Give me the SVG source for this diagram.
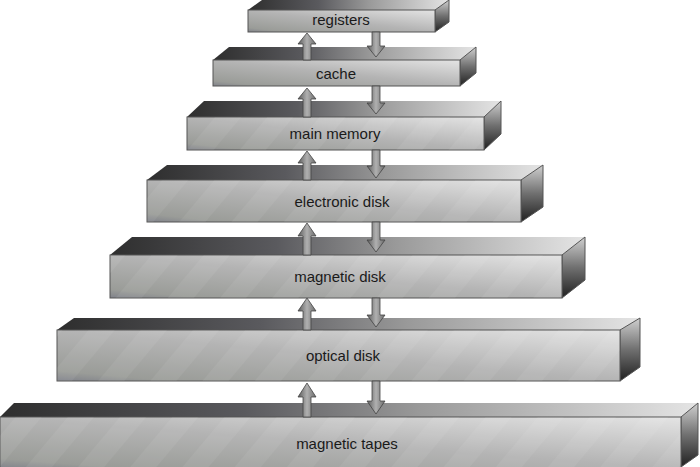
<svg xmlns="http://www.w3.org/2000/svg" width="700" height="467" viewBox="0 0 700 467">
<defs>
<linearGradient id="top" x1="0" y1="0" x2="1" y2="0"><stop offset="0" stop-color="#2e2e2e"/><stop offset="0.35" stop-color="#5a5a5e"/><stop offset="0.6" stop-color="#999"/><stop offset="1" stop-color="#e4e4e4"/></linearGradient>
<linearGradient id="front" x1="0" y1="1" x2="1" y2="0"><stop offset="0" stop-color="#80828a"/><stop offset="0.1" stop-color="#9a9c98"/><stop offset="0.5" stop-color="#b4b4b4"/><stop offset="1" stop-color="#e4e4e4"/></linearGradient>
<linearGradient id="side" x1="0" y1="0" x2="0" y2="1"><stop offset="0" stop-color="#d0d0d0"/><stop offset="0.5" stop-color="#707070"/><stop offset="1" stop-color="#202020"/></linearGradient>
<linearGradient id="arr" x1="0" y1="0" x2="1" y2="0"><stop offset="0" stop-color="#5a5a5a"/><stop offset="0.5" stop-color="#b0b0b0"/><stop offset="1" stop-color="#6a6a6a"/></linearGradient>
<pattern id="stripes" width="40" height="40" patternUnits="userSpaceOnUse" patternTransform="rotate(40)"><rect width="20" height="40" fill="#fff" opacity="0.06"/></pattern>
</defs>
<style>
.f{stroke:#555;stroke-width:1}
.t{font-family:"Liberation Sans",Arial,sans-serif;font-size:15px;fill:#1a1a1a;text-anchor:middle}
.a{fill:url(#arr);stroke:#444;stroke-width:0.8}
</style>
<g id="registers"><polygon points="248,10 262,0 449,0 435,10" fill="url(#top)"/><polygon points="435,10 449,0 449,22 435,32" fill="url(#side)" class="f"/><rect x="248" y="10" width="187" height="22" fill="url(#front)" class="f"/><text class="t" x="341" y="25">registers</text></g>
<g id="cache"><polygon points="213,60 229,47 476,47 460,60" fill="url(#top)"/><polygon points="460,60 476,47 476,73 460,86" fill="url(#side)" class="f"/><rect x="213" y="60" width="247" height="26" fill="url(#front)" class="f"/><text class="t" x="336" y="79">cache</text></g>
<g id="main-memory"><polygon points="187,117 204,101 501,101 484,117" fill="url(#top)"/><polygon points="484,117 501,101 501,134 484,150" fill="url(#side)" class="f"/><rect x="187" y="117" width="297" height="33" fill="url(#front)" class="f"/><rect x="187" y="117" width="297" height="33" fill="url(#stripes)"/><text class="t" x="335" y="139">main memory</text></g>
<g id="electronic-disk"><polygon points="147,180 167,165 543,165 521,180" fill="url(#top)"/><polygon points="521,180 543,165 543,207 521,222" fill="url(#side)" class="f"/><rect x="147" y="180" width="374" height="42" fill="url(#front)" class="f"/><rect x="147" y="180" width="374" height="42" fill="url(#stripes)"/><text class="t" x="342" y="207">electronic disk</text></g>
<g id="magnetic-disk"><polygon points="110,255 132,237 585,237 562,255" fill="url(#top)"/><polygon points="562,255 585,237 585,280 562,298" fill="url(#side)" class="f"/><rect x="110" y="255" width="452" height="43" fill="url(#front)" class="f"/><rect x="110" y="255" width="452" height="43" fill="url(#stripes)"/><text class="t" x="340" y="282">magnetic disk</text></g>
<g id="optical-disk"><polygon points="57,330 74,318 640,318 620,330" fill="url(#top)"/><polygon points="620,330 640,318 640,367 620,381" fill="url(#side)" class="f"/><rect x="57" y="330" width="563" height="51" fill="url(#front)" class="f"/><rect x="57" y="330" width="563" height="51" fill="url(#stripes)"/><text class="t" x="343" y="361">optical disk</text></g>
<g id="magnetic-tapes"><polygon points="0,417 14,403 698,403 681,417" fill="url(#top)"/><polygon points="681,417 698,403 698,455 681,467" fill="url(#side)" class="f"/><rect x="0" y="417" width="681" height="52" fill="url(#front)" class="f"/><rect x="0" y="417" width="681" height="52" fill="url(#stripes)"/><text class="t" x="347" y="449">magnetic tapes</text></g>
<g id="connectors">
<path class="a" d="M303,60 V44 H298 L307,33 L316,44 H311 V60 Z"/><path class="a" d="M372,32 V46 H367 L376,57 L385,46 H380 V32 Z"/>
<path class="a" d="M303,117 V99 H298 L307,88 L316,99 H311 V117 Z"/><path class="a" d="M372,86 V103 H367 L376,114 L385,103 H380 V86 Z"/>
<path class="a" d="M303,180 V163 H298 L307,151 L316,163 H311 V180 Z"/><path class="a" d="M372,150 V166 H367 L376,178 L385,166 H380 V150 Z"/>
<path class="a" d="M303,255 V236 H298 L307,223 L316,236 H311 V255 Z"/><path class="a" d="M372,222 V240 H367 L376,252 L385,240 H380 V222 Z"/>
<path class="a" d="M303,330 V311 H298 L307,298 L316,311 H311 V330 Z"/><path class="a" d="M372,298 V315 H367 L376,327 L385,315 H380 V298 Z"/>
<path class="a" d="M303,417 V397 H298 L307,383 L316,397 H311 V417 Z"/><path class="a" d="M372,381 V401 H367 L376,414 L385,401 H380 V381 Z"/>
</g>
</svg>
